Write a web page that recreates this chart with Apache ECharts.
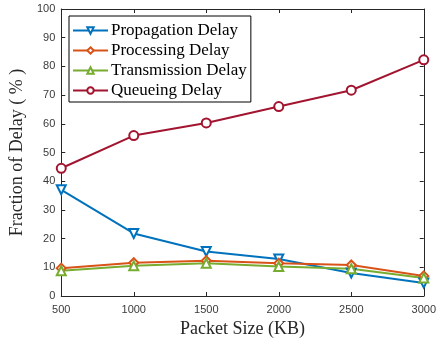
<!DOCTYPE html>
<html><head><meta charset="utf-8">
<script src="https://cdn.jsdelivr.net/npm/echarts@6/dist/echarts.min.js"></script>
<style>html,body{margin:0;padding:0;background:#fff}#c{width:439px;height:343px}</style>
</head><body><div id="c"></div>
<script>
const packetSizes = [500, 1000, 1500, 2000, 2500, 3000];
const propagation = [37.0, 21.8, 15.5, 12.9, 8.0, 4.5];
const processing = [9.7, 11.6, 12.3, 11.4, 10.8, 7.0];
const transmission = [8.8, 10.5, 11.4, 10.3, 9.5, 6.3];
const queueing = [44.5, 55.9, 60.3, 66.0, 71.7, 82.3];
const seriesNames = ['Propagation Delay', 'Processing Delay', 'Transmission Delay', 'Queueing Delay'];
const colors = ['#0072BD', '#D95319', '#77AC30', '#A2142F'];

const pair = arr => packetSizes.map((x, i) => [x, arr[i]]);
const axisColor = '#262626';
const labelFont = {fontFamily: 'Liberation Sans', fontSize: 11, color: '#3a3a3a'};

function mk(name, data, color, symbol, rotate) {
  return {
    name, type: 'line', data: pair(data), symbol, symbolSize: 9, symbolRotate: rotate || 0,
    lineStyle: {color, width: 2}, itemStyle: {color, borderColor: color, borderWidth: 1.5},
    emphasis: {disabled: true}, z: 3
  };
}

const chart = echarts.init(document.getElementById('c'));
chart.setOption({
  animation: false,
  color: colors,
  grid: {left: 54, right: 13, top: 9, bottom: 44, containLabel: false},
  legend: {
    orient: 'vertical', left: 69, top: 16,
    data: seriesNames,
    itemWidth: 35, itemHeight: 8, itemGap: 3,
    padding: [6, 4, 3, 3],
    backgroundColor: '#fff', borderColor: '#000', borderWidth: 1,
    textStyle: {fontFamily: 'Liberation Serif', fontSize: 17, lineHeight: 17, color: '#000', padding: [0, 0, 0, -2]}
  },
  xAxis: [{
    type: 'value', min: 500, max: 3000, interval: 500,
    name: 'Packet Size (KB)', nameLocation: 'middle', nameGap: 24,
    nameTextStyle: {fontFamily: 'Liberation Serif', fontSize: 18, color: axisColor},
    axisLine: {show: true, lineStyle: {color: axisColor, width: 1}},
    axisTick: {show: true, inside: true, length: 4, lineStyle: {color: axisColor}},
    axisLabel: Object.assign({margin: 8, formatter: v => String(v)}, labelFont),
    splitLine: {show: false}
  }, {
    type: 'value', position: 'top', min: 500, max: 3000, interval: 500,
    axisLine: {show: true, onZero: false, lineStyle: {color: axisColor, width: 1}},
    axisTick: {show: true, inside: true, length: 4, lineStyle: {color: axisColor}},
    axisLabel: {show: false}, splitLine: {show: false}
  }],
  yAxis: [{
    type: 'value', min: 0, max: 100, interval: 10,
    name: 'Fraction of Delay ( % )', nameLocation: 'middle', nameGap: 32,
    nameTextStyle: {fontFamily: 'Liberation Serif', fontSize: 18, color: axisColor},
    axisLine: {show: true, lineStyle: {color: axisColor, width: 1}},
    axisTick: {show: true, inside: true, length: 4, lineStyle: {color: axisColor}},
    axisLabel: Object.assign({margin: 6}, labelFont),
    splitLine: {show: false}
  }, {
    type: 'value', position: 'right', min: 0, max: 100, interval: 10,
    axisLine: {show: true, onZero: false, lineStyle: {color: axisColor, width: 1}},
    axisTick: {show: true, inside: true, length: 4, lineStyle: {color: axisColor}},
    axisLabel: {show: false}, splitLine: {show: false}
  }],
  series: [
    mk(seriesNames[0], propagation, colors[0], 'emptyTriangle', 180),
    mk(seriesNames[1], processing, colors[1], 'emptyDiamond'),
    mk(seriesNames[2], transmission, colors[2], 'emptyTriangle'),
    mk(seriesNames[3], queueing, colors[3], 'emptyCircle')
  ]
});
</script></body></html>
